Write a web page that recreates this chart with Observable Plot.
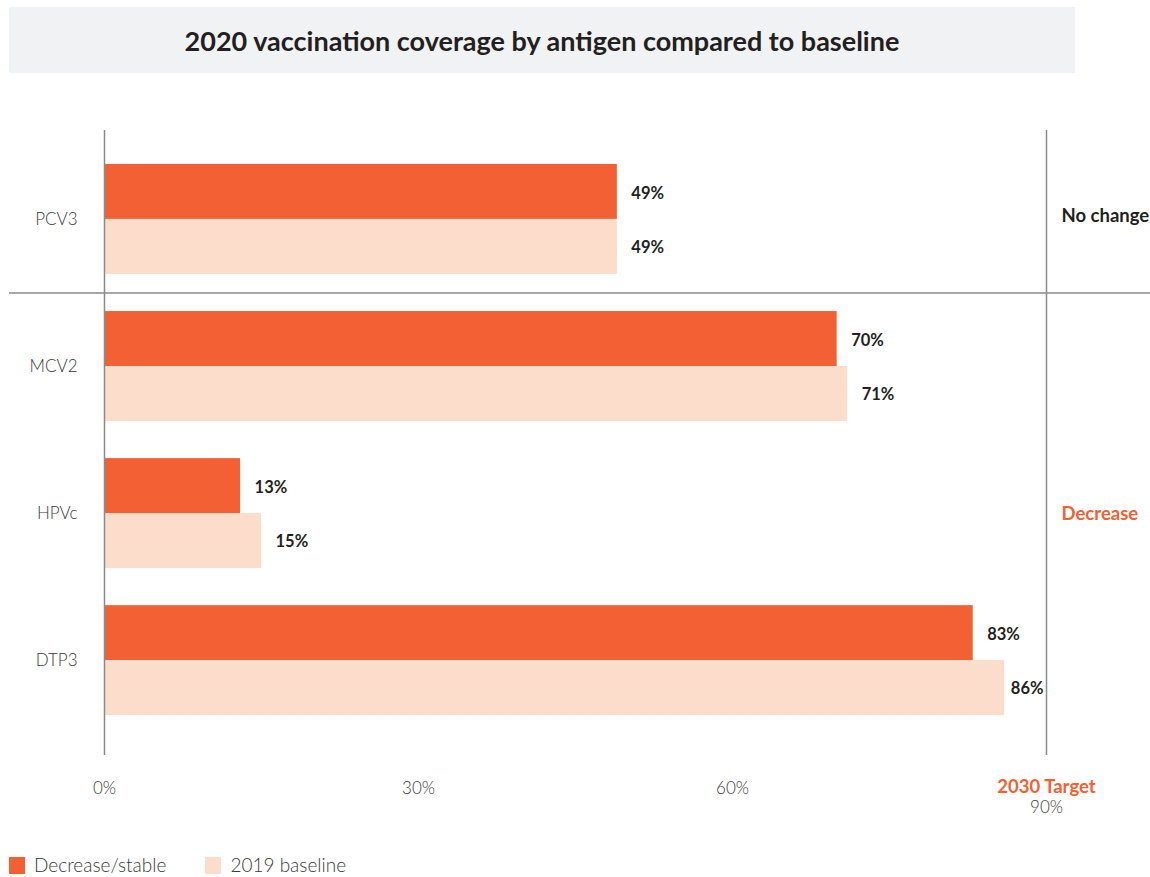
<!DOCTYPE html>
<html>
<head>
<meta charset="utf-8">
<script src="https://cdn.jsdelivr.net/npm/d3@7"></script>
<script src="https://cdn.jsdelivr.net/npm/@observablehq/plot@0.6"></script>
<style>
  body { margin: 0; background: #fff; font-family: Lato, "Open Sans", sans-serif; }
  #wrap { position: relative; width: 1150px; height: 877px; overflow: hidden; }
  #title { position: absolute; left: 9px; top: 7px; width: 1066px; height: 66px; background: #f1f2f4;
           display: flex; align-items: center; justify-content: center;
           font-weight: 700; font-size: 27px; color: #231f20; }
  #chart { position: absolute; left: 0; top: 80px; }
  #legend { position: absolute; left: 9px; top: 855px; display: flex; align-items: center;
            font-size: 19px; line-height: 20px; font-weight: 300; color: #3a3a3a; }
  .item { display: flex; align-items: center; margin-right: 39px; }
  .sw { width: 16px; height: 17px; margin-right: 9px; }
</style>
</head>
<body>
<div id="wrap">
  <div id="title"></div>
  <div id="chart"></div>
  <div id="legend"></div>
</div>
<script>
const titleText = "2020 vaccination coverage by antigen compared to baseline";
const antigens = ["PCV3", "MCV2", "HPVc", "DTP3"];
const coverage2020 = [49, 70, 13, 83];
const baseline2019 = [49, 71, 15, 86];
const seriesNames = ["Decrease/stable", "2019 baseline"];
const xTicks = [0, 30, 60];
const targetValue = 90;
const targetLabel = "2030 Target";
const statusText = ["No change", "Decrease"];
const statusAt = ["PCV3", "HPVc"];

const ORANGE = "#f26033";
const BEIGE = "#fcdcca";
const DARK = "#231f20";
const GREY = "#3a3a3a";
const LINE = "#8a8a8a";

document.getElementById("title").textContent = titleText;

const rows2020 = antigens.map((a, i) => ({antigen: a, value: coverage2020[i]}));
const rows2019 = antigens.map((a, i) => ({antigen: a, value: baseline2019[i]}));

const yRange = [84, 635];
const padInner = 0.253;
const step = (yRange[1] - yRange[0]) / (antigens.length - padInner);
const half = step * (1 - padInner) / 2;

const nearTarget = d => d.value + 4.5 > targetValue;

const chart = Plot.plot({
  width: 1150,
  height: 750,
  marginLeft: 9,
  marginRight: 0,
  marginTop: 50,
  marginBottom: 75,
  style: {fontFamily: "Lato, 'Open Sans', sans-serif", fontSize: "17px", background: "transparent"},
  x: {domain: [0, targetValue], range: [104, 1046], axis: null},
  y: {domain: antigens, range: yRange, paddingInner: padInner, paddingOuter: 0, round: false, axis: null},
  marks: [
    Plot.barX(rows2020, {y: "antigen", x: "value", fill: ORANGE, insetBottom: half}),
    Plot.barX(rows2019, {y: "antigen", x: "value", fill: BEIGE, insetTop: half}),
    Plot.ruleX([0, targetValue], {stroke: LINE, strokeWidth: 1.5}),
    Plot.ruleY([antigens[0]], {y: d => d, dy: step / 2, stroke: LINE, strokeWidth: 1.5}),
    // value labels
    Plot.text(rows2020.filter(d => !nearTarget(d)), {y: "antigen", x: "value", dy: -half / 2 + 2, dx: 14, text: d => d.value + "%", textAnchor: "start", fontWeight: 700, fontSize: 16.5, fill: DARK}),
    Plot.text(rows2019.filter(d => !nearTarget(d)), {y: "antigen", x: "value", dy: half / 2 + 1, dx: 14, text: d => d.value + "%", textAnchor: "start", fontWeight: 700, fontSize: 16.5, fill: DARK}),
    Plot.text(rows2019.filter(nearTarget), {y: "antigen", x: () => targetValue, dy: half / 2 + 1, dx: -3, text: d => d.value + "%", textAnchor: "end", fontWeight: 700, fontSize: 16.5, fill: DARK}),
    Plot.text(rows2020.filter(nearTarget), {y: "antigen", x: () => targetValue, dy: -half / 2 + 2, dx: -3, text: d => d.value + "%", textAnchor: "end", fontWeight: 700, fontSize: 16.5, fill: DARK}),
    // category labels
    Plot.text(antigens, {y: d => d, x: () => 0, dx: -27, text: d => d, textAnchor: "end", fontSize: 17, fontWeight: 300, fill: GREY}),
    // status labels
    Plot.text([statusAt[0]], {y: d => d, x: () => targetValue, dx: 15, dy: -3, text: () => statusText[0], textAnchor: "start", fontWeight: 700, fontSize: 18.5, fill: DARK}),
    Plot.text([statusAt[1]], {y: d => d, x: () => targetValue, dx: 15, dy: 1, text: () => statusText[1], textAnchor: "start", fontWeight: 700, fontSize: 18.5, fill: ORANGE}),
    // x tick labels
    Plot.text(xTicks, {x: d => d, frameAnchor: "bottom", dy: 38, text: d => d + "%", fontSize: 17, fontWeight: 300, fill: GREY}),
    Plot.text([targetValue], {x: d => d, frameAnchor: "bottom", dy: 37, text: () => targetLabel, fontSize: 18.5, fontWeight: 700, fill: ORANGE}),
    Plot.text([targetValue], {x: d => d, frameAnchor: "bottom", dy: 57, text: d => d + "%", fontSize: 17, fontWeight: 300, fill: GREY})
  ]
});
document.getElementById("chart").appendChild(chart);

const legend = document.getElementById("legend");
[ORANGE, BEIGE].forEach((c, i) => {
  const item = document.createElement("div");
  item.className = "item";
  const sw = document.createElement("div");
  sw.className = "sw";
  sw.style.background = c;
  const lab = document.createElement("span");
  lab.textContent = seriesNames[i];
  item.appendChild(sw);
  item.appendChild(lab);
  legend.appendChild(item);
});
</script>
</body>
</html>
